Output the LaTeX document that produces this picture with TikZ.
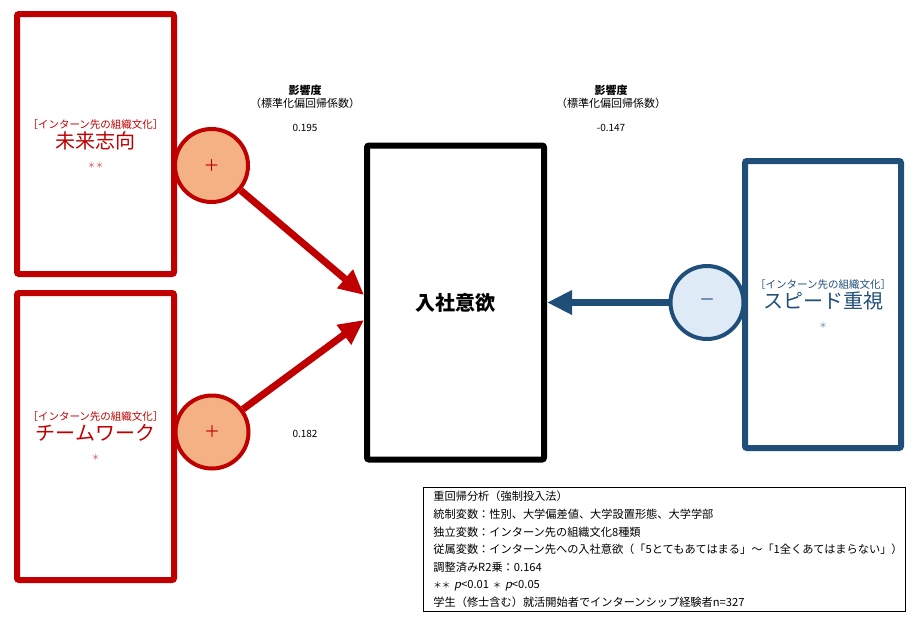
\documentclass[tikz,border=0pt]{standalone}
\usepackage{fontspec}
\setmainfont{Noto Sans CJK JP}
\newfontfamily\slantfont[FakeSlant=0.2]{Noto Sans CJK JP}
\usetikzlibrary{arrows.meta}
\usepackage{xcolor}
\definecolor{accred}{HTML}{C00000}
\definecolor{accblue}{HTML}{1F4E79}
\definecolor{plusfill}{HTML}{F4B183}
\definecolor{minusfill}{HTML}{DEEBF7}

\begin{document}
\begin{tikzpicture}[x=1pt, y=-1pt,
            factor/.style = {rectangle, draw, line width=6pt, rounded corners=2pt, inner sep=0pt, align=center, minimum width=157pt, font=\fontsize{10.5}{20}\selectfont},
            sign/.style = {circle, draw, line width=4pt, minimum size=73pt, inner sep=0pt, font=\fontsize{16}{16}\selectfont},
            arrow/.style = {-{Triangle[length=25pt, width=23pt]}, line width=7pt},
            coef/.style = {font=\fontsize{10}{12}\selectfont}]
            \useasboundingbox (0,0) rectangle (920,630);
            % nodes
            \node (future) [factor, draw=accred, text=accred, minimum height=260pt] at (95.5,144)
                {［インターン先の組織文化］\\{\fontsize{20}{20}\selectfont 未来志向}\\{\fontsize{8}{10}\selectfont\color{accred!70}＊＊}};
            \node (team) [factor, draw=accred, text=accred, minimum height=287pt] at (95.5,436.5)
                {［インターン先の組織文化］\\{\fontsize{20}{20}\selectfont チームワーク}\\{\fontsize{8}{10}\selectfont\color{accred!70}＊}};
            \node (speed) [factor, draw=accblue, text=accblue, minimum width=156pt, minimum height=287pt] at (823,304.5)
                {［インターン先の組織文化］\\{\fontsize{20}{20}\selectfont スピード重視}\\{\fontsize{8}{10}\selectfont\color{accblue!70}＊}};
            \node (outcome) [rectangle, draw, line width=6pt, rounded corners=2pt, minimum width=177pt, minimum height=314pt, font=\bfseries\fontsize{20}{24}\selectfont] at (455.5,302.5) {入社意欲};
            \node (plusA) [sign, draw=accred, fill=plusfill, text=accred] at (211.5,165.5) {＋};
            \node (plusB) [sign, draw=accred, fill=plusfill, text=accred] at (212,432) {＋};
            \node (minusC) [sign, draw=accblue, fill=minusfill, text=accblue] at (707,302.5) {－};
            % Connections
            \coordinate (inA) at ([yshift=7.5pt]outcome.west);
            \coordinate (inB) at ([yshift=-17.5pt]outcome.west);
            \draw [arrow, accred] (plusA) -- (inA);
            \draw [arrow, accred] (plusB) -- (inB);
            \draw [arrow, accblue] (minusC) -- (outcome.east);
            % Text
            \node (hdrA) [font=\bfseries\fontsize{11}{13}\selectfont] at (305,90) {影響度};
            \node (subA) [font=\fontsize{11}{12}\selectfont] at (305,103) {（標準化偏回帰係数）};
            \node (coefA) [coef] at (305,128) {0.195};
            \node (hdrC) [font=\bfseries\fontsize{11}{13}\selectfont] at (611,90) {影響度};
            \node (subC) [font=\fontsize{11}{12}\selectfont] at (611,103) {（標準化偏回帰係数）};
            \node (coefC) [coef] at (611,128) {-0.147};
            \node (coefB) [coef] at (305,434) {0.182};
            \node (notes) [draw, line width=0.8pt, anchor=north west, text width=462pt, inner xsep=10pt, inner ysep=4pt, align=left, font=\fontsize{11.2}{17.6}\selectfont] at (423,487)
                {重回帰分析（強制投入法）\\
                 統制変数：性別、大学偏差値、大学設置形態、大学学部\\
                 独立変数：インターン先の組織文化8種類\\
                 従属変数：インターン先への入社意欲（「5とてもあてはまる」～「1全くあてはまらない」）\\
                 調整済みR2乗：0.164\\
                 \relax{\fontsize{8.5}{10}\selectfont ＊＊} {\slantfont p}<0.01 {\fontsize{8.5}{10}\selectfont ＊} {\slantfont p}<0.05\\
                 学生（修士含む）就活開始者でインターンシップ経験者n=327};
        \end{tikzpicture}
\end{document}
